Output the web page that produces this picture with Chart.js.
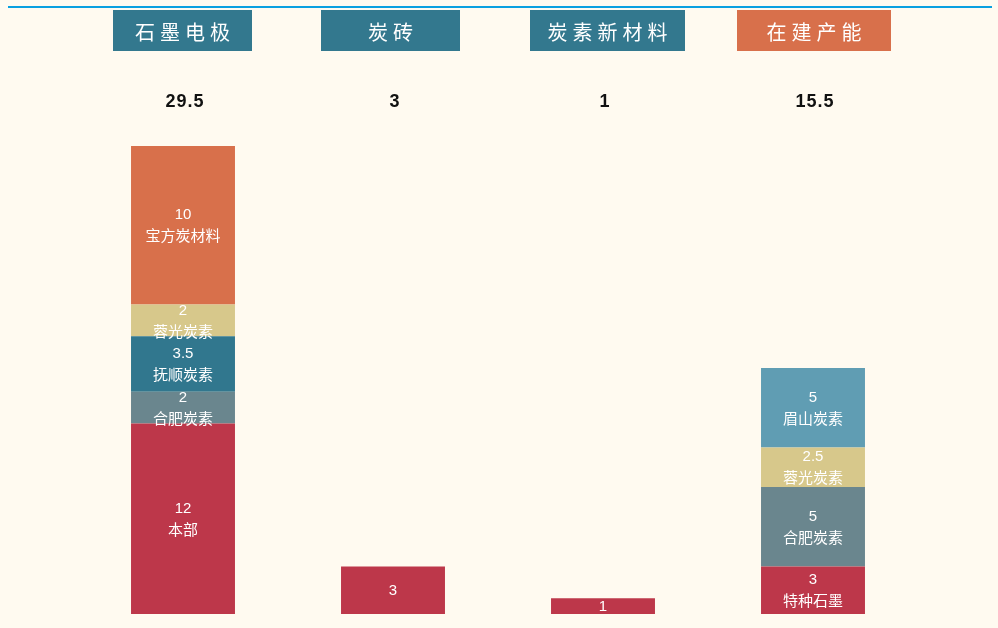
<!DOCTYPE html>
<html>
<head>
<meta charset="utf-8">
<script src="https://cdn.jsdelivr.net/npm/chart.js@4"></script>
<style>
  body { margin: 0; background: #fffaf0; }
  canvas { display: block; }
</style>
</head>
<body>
<canvas id="chart" width="998" height="628"></canvas>
<script>
const categories = ["石墨电极", "炭砖", "炭素新材料", "在建产能"];

// one series per producer, stacked bottom to top
const benbu = [12, 3, 1, null];
const tezhong = [null, null, null, 3];
const hefei = [2, null, null, 5];
const fushun = [3.5, null, null, null];
const rongguang = [2, null, null, 2.5];
const meishan = [null, null, null, 5];
const baofang = [10, null, null, null];

// name shown under the value, per bar
const benbuNames = ["本部", "", "", ""];

const headerColors = ["#33788e", "#33788e", "#33788e", "#d8704b"];

const series = [
  { label: "本部", data: benbu, color: "#bd374a", names: benbuNames },
  { label: "特种石墨", data: tezhong, color: "#bd374a" },
  { label: "合肥炭素", data: hefei, color: "#6a868e" },
  { label: "抚顺炭素", data: fushun, color: "#31778e" },
  { label: "蓉光炭素", data: rongguang, color: "#d7c88b" },
  { label: "眉山炭素", data: meishan, color: "#609db3" },
  { label: "宝方炭材料", data: baofang, color: "#d8704b" },
];

const totals = categories.map((c, i) =>
  series.reduce((s, d) => s + (d.data[i] || 0), 0)
);

// header boxes: left edge and width in px
const headerBox = [[113, 139], [321, 139], [530, 155], [737, 154]];

const extras = {
  id: "extras",
  beforeDraw(chart) {
    const ctx = chart.ctx;
    ctx.save();
    ctx.fillStyle = "#fffaf0";
    ctx.fillRect(0, 0, chart.width, chart.height);
    ctx.strokeStyle = "#0aa0e0";
    ctx.lineWidth = 2;
    ctx.beginPath();
    ctx.moveTo(8, 7);
    ctx.lineTo(992, 7);
    ctx.stroke();
    ctx.restore();
  },
  afterDatasetsDraw(chart) {
    const ctx = chart.ctx;
    const x = chart.scales.x;
    ctx.save();
    ctx.textAlign = "center";
    ctx.textBaseline = "middle";

    // headers
    categories.forEach((c, i) => {
      const [left, w] = headerBox[i];
      ctx.fillStyle = headerColors[i];
      ctx.fillRect(left, 10, w, 41);
      ctx.font = "20px 'Noto Sans CJK SC'";
      ctx.letterSpacing = "5px";
      ctx.fillStyle = "#ffffff";
      ctx.fillText(c, left + w / 2 + 2.5, 32);
    });

    // totals
    ctx.font = "bold 18px 'Liberation Sans', Arial, sans-serif";
    ctx.letterSpacing = "1px";
    ctx.fillStyle = "#111111";
    totals.forEach((t, i) => {
      ctx.fillText(String(t), x.getPixelForValue(i) + 2, 102);
    });

    // segment labels
    ctx.letterSpacing = "0px";
    ctx.font = "15px 'Liberation Sans', 'Noto Sans CJK SC', sans-serif";
    ctx.fillStyle = "#ffffff";
    chart.data.datasets.forEach((ds, di) => {
      const meta = chart.getDatasetMeta(di);
      meta.data.forEach((bar, i) => {
        const v = ds.data[i];
        if (v == null) return;
        const name = series[di].names ? series[di].names[i] : series[di].label;
        const mid = (bar.y + bar.base) / 2;
        if (name) {
          ctx.fillText(String(v), bar.x, mid - 10);
          ctx.fillText(name, bar.x, mid + 12);
        } else {
          ctx.fillText(String(v), bar.x, mid + 1);
        }
      });
    });
    ctx.restore();
  },
};

new Chart(document.getElementById("chart"), {
  type: "bar",
  data: {
    labels: categories,
    datasets: series.map((s) => ({
      label: s.label,
      data: s.data,
      backgroundColor: s.color,
      borderWidth: 0,
      categoryPercentage: 1,
      barPercentage: 0.495,
    })),
  },
  options: {
    responsive: false,
    animation: false,
    layout: { padding: { left: 78, right: 80, top: 19, bottom: 14 } },
    plugins: { legend: { display: false }, tooltip: { enabled: false } },
    scales: {
      x: { stacked: true, display: false },
      y: { stacked: true, display: false, min: 0, max: 37.5 },
    },
  },
  plugins: [extras],
});
</script>
</body>
</html>
